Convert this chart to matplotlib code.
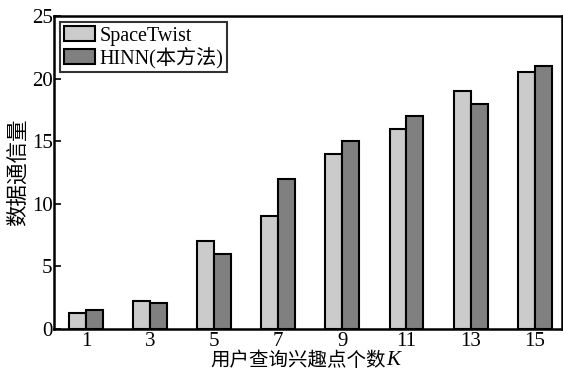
import matplotlib
matplotlib.use("Agg")
import matplotlib.pyplot as plt
import numpy as np

plt.rcParams["font.family"] = ["Liberation Serif", "Noto Sans CJK SC", "DejaVu Sans"]
plt.rcParams["axes.unicode_minus"] = False

k_values = [1, 3, 5, 7, 9, 11, 13, 15]
spacetwist = [1.25, 2.2, 7.0, 9.0, 14.0, 16.0, 19.0, 20.5]
hinn = [1.5, 2.1, 6.0, 12.0, 15.0, 17.0, 18.0, 21.0]
series_labels = ["SpaceTwist", "HINN(本方法)"]
colors = ["#cbcbcb", "#808080"]

fig = plt.figure(figsize=(5.63, 3.76), dpi=100)
ax = fig.add_axes([0.096, 0.125, 0.902, 0.832])

x = np.array(k_values, dtype=float)
w = 0.53
ax.bar(x - w / 2, spacetwist, width=w, color=colors[0], edgecolor="black",
       linewidth=1.5, label=series_labels[0])
ax.bar(x + w / 2, hinn, width=w, color=colors[1], edgecolor="black",
       linewidth=1.5, label=series_labels[1])

ax.set_xlim(0, 15.85)
ax.set_ylim(0, 25)
ax.set_xticks(k_values)
ax.set_yticks([0, 5, 10, 15, 20, 25])
ax.tick_params(axis="both", direction="in", labelsize=15, length=5, width=1.2)
ax.tick_params(axis="x", length=0, pad=2)
ax.tick_params(axis="y", pad=1)
for s in ax.spines.values():
    s.set_linewidth(1.8)

ax.set_ylabel("数据通信量", fontsize=15.5, labelpad=2)
xl = ax.set_xlabel("用户查询兴趣点个数", fontsize=14, labelpad=0.5)
xl.set_x(0.48)
# italic K right after the CJK part of the label
ax.annotate("K", xy=(1, 0), xycoords=xl, xytext=(0.5, 0), textcoords="offset points",
            ha="left", va="bottom", fontsize=15, style="italic",
            family="Liberation Serif")

leg = ax.legend(loc="upper left", fontsize=14.5, frameon=True, fancybox=False,
                edgecolor="black", handlelength=1.55, handleheight=0.75,
                handletextpad=0.2, borderpad=0.2, labelspacing=0.05,
                borderaxespad=0.3)
leg.get_frame().set_linewidth(1.5)
for p in leg.get_patches():
    p.set_linewidth(1.5)

fig.savefig("out.png", dpi=100)
